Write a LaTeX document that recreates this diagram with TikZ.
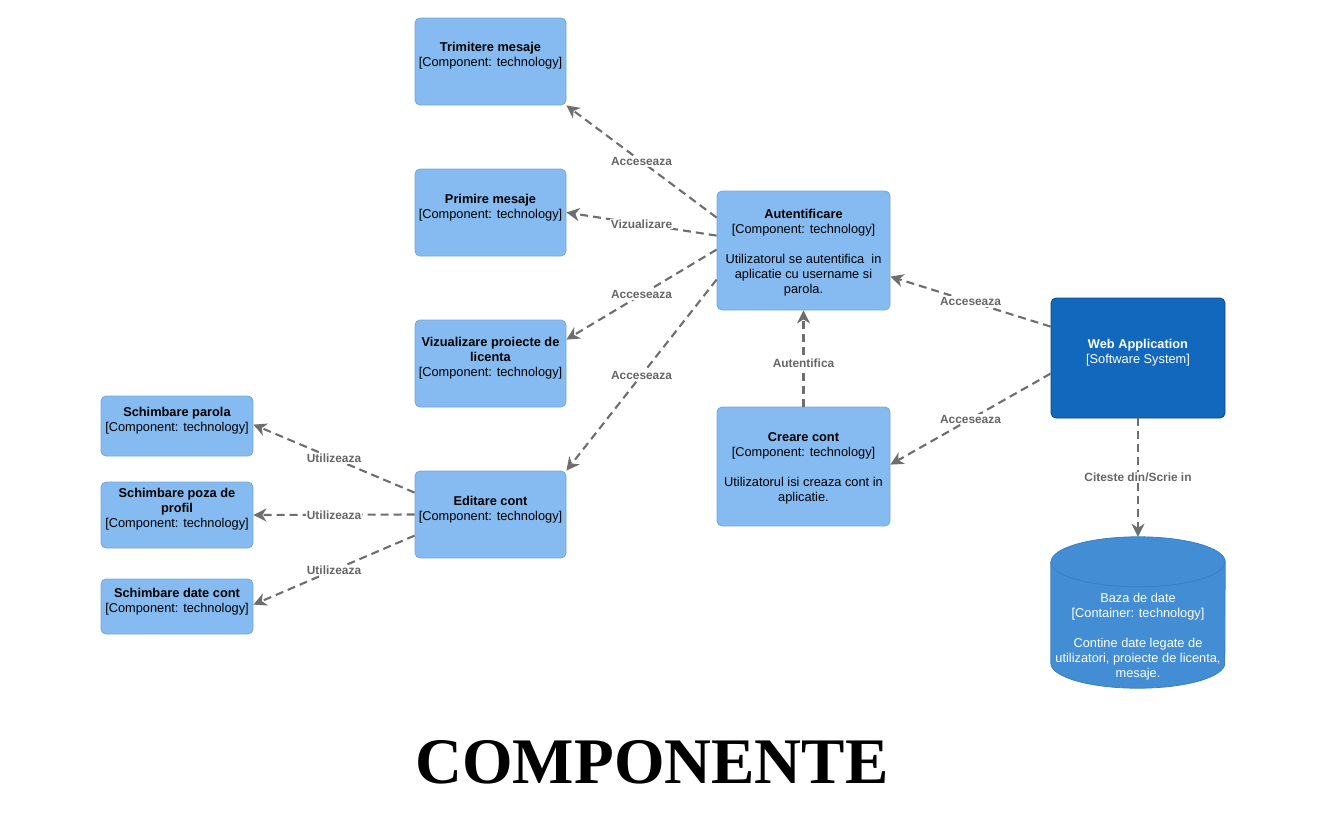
\documentclass[tikz,border=0pt]{standalone}
\usepackage{fontspec}
\setmainfont{Liberation Sans}
\newfontfamily\titlefont{Liberation Serif}
\usetikzlibrary{arrows.meta}
\definecolor{compfill}{HTML}{85BBF0}
\definecolor{compline}{HTML}{78A8D8}
\definecolor{sysfill}{HTML}{1168BD}
\definecolor{sysline}{HTML}{0B4884}
\definecolor{dbfill}{HTML}{438DD5}
\definecolor{dbline}{HTML}{3C7FC0}
\definecolor{edgecol}{HTML}{6E6E6E}
\definecolor{edgetext}{HTML}{666666}
\begin{document}
\begin{tikzpicture}[x=1pt,y=1pt,
 box/.style={draw=compline, fill=compfill, rounded corners=5pt, line width=0.8pt, inner sep=0pt},
 sysbox/.style={draw=sysline, fill=sysfill, rounded corners=5pt, line width=0.8pt, inner sep=0pt},
 txt/.style={align=center, inner sep=0pt, anchor=base, font=\fontsize{12.8}{15}\selectfont},
 wtxt/.style={txt, text=white},
 rel/.style={draw=edgecol, line width=2.1pt, dash pattern=on 8pt off 5pt, -{Stealth[length=13pt,width=13pt,inset=4pt]}},
 lbl/.style={fill=white, inner sep=1pt, text=edgetext, font=\bfseries\fontsize{11.9}{13}\selectfont}
]
\useasboundingbox (0,0) rectangle (1326,-822);
\fill[white] (0,0) rectangle (1326,-822);

% component boxes (text nodes are anchored at the baseline of their last line)
\node[box, minimum width=151pt, minimum height=87pt] (trim) at (490.5,-61.5) {};
\node[txt] (trimt) at (490.5,-66.5) {\textbf{Trimitere mesaje}\\{[}Component: technology{]}};
\node[box, minimum width=151pt, minimum height=87pt] (prim) at (490.5,-212.5) {};
\node[txt] (primt) at (490.5,-218.5) {\textbf{Primire mesaje}\\{[}Component: technology{]}};
\node[box, minimum width=151pt, minimum height=87pt] (viz) at (490.5,-363.5) {};
\node[txt] (vizt) at (490.5,-376.5) {\textbf{Vizualizare proiecte de}\\\textbf{licenta}\\{[}Component: technology{]}};
\node[box, minimum width=151pt, minimum height=87pt] (edit) at (490.5,-514.5) {};
\node[txt] (editt) at (490.5,-520.5) {\textbf{Editare cont}\\{[}Component: technology{]}};

\node[box, minimum width=173pt, minimum height=119pt] (auth) at (803.5,-250.5) {};
\node[txt] (autht) at (803.5,-293.5) {\textbf{Autentificare}\\{[}Component: technology{]}\\[15pt]Utilizatorul se autentifica\ \ in\\aplicatie cu username si\\parola.};
\node[box, minimum width=173pt, minimum height=119pt] (creare) at (803.5,-466.5) {};
\node[txt] (crearet) at (803.5,-501.5) {\textbf{Creare cont}\\{[}Component: technology{]}\\[15pt]Utilizatorul isi creaza cont in\\aplicatie.};

\node[sysbox, minimum width=174pt, minimum height=120pt] (web) at (1138,-358) {};
\node[wtxt] (webt) at (1138,-363.3) {\textbf{Web Application}\\{[}Software System{]}};

% database cylinder
\node[minimum width=174pt, minimum height=151pt, inner sep=0pt] (db) at (1138,-612.5) {};
\filldraw[fill=dbfill, draw=dbline, line width=0.8pt]
  ([yshift=-25pt]db.north west) -- ([yshift=25pt]db.south west)
  arc[start angle=180, end angle=360, x radius=87pt, y radius=25pt]
  -- ([yshift=-25pt]db.north east)
  arc[start angle=0, end angle=180, x radius=87pt, y radius=25pt] -- cycle;
\draw[draw=dbline, line width=0.8pt] ([yshift=-25pt]db.north west)
  arc[start angle=180, end angle=360, x radius=87pt, y radius=25pt];
\node[wtxt] (dbt) at (1138,-677) {Baza de date\\{[}Container: technology{]}\\[15pt]Contine date legate de\\utilizatori, proiecte de licenta,\\mesaje.};

\node[box, minimum width=152pt, minimum height=60pt] (parola) at (177,-426) {};
\node[txt] (parolat) at (177,-431.3) {\textbf{Schimbare parola}\\{[}Component: technology{]}};
\node[box, minimum width=152pt, minimum height=66pt] (poza) at (177,-515) {};
\node[txt] (pozat) at (177,-527) {\textbf{Schimbare poza de}\\\textbf{profil}\\{[}Component: technology{]}};
\node[box, minimum width=152pt, minimum height=55pt] (datec) at (177,-606.5) {};
\node[txt] (datect) at (177,-612) {\textbf{Schimbare date cont}\\{[}Component: technology{]}};

% connectors
\draw[rel] ([yshift=-27pt]auth.north west) -- node[lbl] {Acceseaza} (trim.south east);
\draw[rel] ([yshift=-45pt]auth.north west) -- node[lbl] {Vizualizare} (prim.east);
\draw[rel] ([yshift=-59pt]auth.north west) -- node[lbl] {Acceseaza} ([yshift=-20pt]viz.north east);
\draw[rel] ([yshift=-89pt]auth.north west) -- node[lbl] {Acceseaza} (edit.north east);
\draw[rel] ([yshift=-29pt]web.north west) -- node[lbl] {Acceseaza} ([yshift=-86pt]auth.north east);
\draw[rel] ([yshift=-76pt]web.north west) -- node[lbl] {Acceseaza} ([yshift=-58pt]creare.north east);
\draw[rel] (creare.north) -- node[lbl, pos=0.45] {Autentifica} (auth.south);
\draw[rel] (web.south) -- node[lbl] {Citeste din/Scrie in} (db.north);
\draw[rel] ([yshift=-22pt]edit.north west) -- node[lbl] {Utilizeaza} ([yshift=-29pt]parola.north east);
\draw[rel] (edit.west) -- node[lbl] {Utilizeaza} (poza.east);
\draw[rel] ([yshift=-65pt]edit.north west) -- node[lbl] {Utilizeaza} ([yshift=-26pt]datec.north east);

% title
\node[font=\titlefont\bfseries\fontsize{65}{70}\selectfont, anchor=base, inner sep=0pt] (title) at (652,-783) {COMPONENTE};
\end{tikzpicture}
\end{document}
